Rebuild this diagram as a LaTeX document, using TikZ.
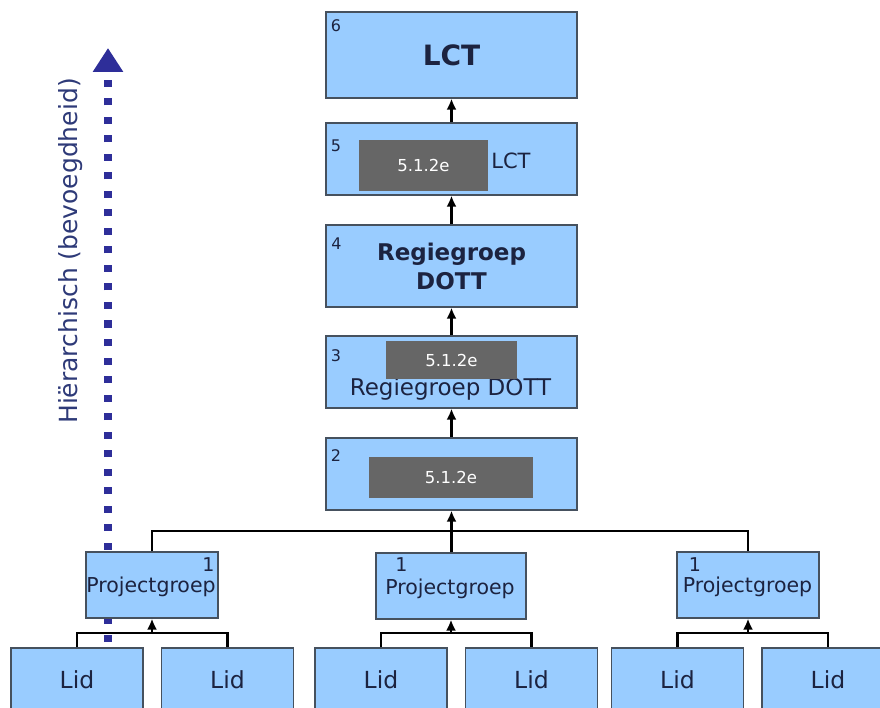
\documentclass[tikz,border=0pt]{standalone}
\usepackage{fontspec}
\setmainfont{DejaVu Sans}
\usetikzlibrary{arrows.meta}

\definecolor{boxblue}{HTML}{99CCFF}
\definecolor{boxline}{HTML}{46515E}
\definecolor{maskgray}{HTML}{666666}
\definecolor{hierblue}{HTML}{2E2E99}
\definecolor{hiertext}{HTML}{2E3A78}
\definecolor{textdark}{HTML}{1C2340}

\tikzset{every picture/.style={line width=0.75pt}}
\tikzset{
  lvlbox/.style={draw=boxline, fill=boxblue, line width=1.2pt, inner sep=0pt, minimum width=251pt, text=textdark},
  pgbox/.style={draw=boxline, fill=boxblue, line width=1.2pt, inner sep=0pt, minimum height=66pt},
  lidbox/.style={draw=boxline, fill=boxblue, line width=1.2pt, inner sep=0pt, minimum width=132pt, minimum height=64pt, text=textdark, font=\fontsize{23.5}{26}\selectfont},
  maskbox/.style={fill=maskgray, inner sep=0pt, text=white, font=\fontsize{16.5}{18}\selectfont},
  lvlnum/.style={inner sep=0pt, text=textdark, font=\fontsize{16}{18}\selectfont},
  pgnum/.style={inner sep=0pt, text=textdark, font=\fontsize{19}{20}\selectfont},
  pgtext/.style={inner sep=0pt, anchor=base, text=textdark, font=\fontsize{20.5}{24}\selectfont},
  conn/.style={line width=2.8pt, -{Latex[length=11pt,width=10pt]}},
  bus/.style={line width=2.8pt},
}

\begin{document}
\begin{tikzpicture}[x=1pt,y=1pt,yscale=-1,xscale=1]
	\useasboundingbox (0,0) rectangle (880,708);

	% Dotted arrow (hierarchy)
	\coordinate (hbot) at (108,642);
	\coordinate (htop) at (108,48);
	\draw [hierblue, line width=8pt, dash pattern=on 7pt off 11.5pt, -{Triangle[length=24pt,width=29pt]}] (hbot) -- (htop);
	% Text Node
	\node (hier) [rotate=90, anchor=base, inner sep=0pt, text=hiertext, font=\fontsize{25}{30}\selectfont] at (77,251) {Hiërarchisch (bevoegdheid)};

	% Level boxes
	\node (lvl6) [lvlbox, minimum height=86pt, font=\bfseries\fontsize{28}{34}\selectfont] at (451.5,55) {LCT};
	\node (lvl5) [lvlbox, minimum height=72pt] at (451.5,159) {};
	\node (lvl4) [lvlbox, minimum height=82pt, align=center, font=\bfseries\fontsize{23}{29}\selectfont] at (451.5,266) {Regiegroep\\DOTT};
	\node (lvl3) [lvlbox, minimum height=72pt] at (451.5,372) {};
	\node (lvl2) [lvlbox, minimum height=72pt] at (451.5,474) {};

	% Text Node
	\node (lct5) [inner sep=0pt, anchor=west, text=textdark, font=\fontsize{21}{24}\selectfont] at (491,161) {LCT};
	% Text Node
	\node (regie3) [inner sep=0pt, text=textdark, font=\fontsize{23}{26}\selectfont] at (450.5,389) {Regiegroep DOTT};

	% Masked parts
	\node (mask5) [maskbox, minimum width=129pt, minimum height=51pt] at (423.5,165.5) {5.1.2e};
	\node (mask3) [maskbox, minimum width=131pt, minimum height=38pt] at (451.5,360) {5.1.2e};
	\node (mask2) [maskbox, minimum width=164pt, minimum height=41pt] at (451,477.5) {5.1.2e};

	% Level numbers
	\node (n6) [lvlnum] at (336,26) {6};
	\node (n5) [lvlnum] at (336,146) {5};
	\node (n4) [lvlnum] at (336.5,244) {4};
	\node (n3) [lvlnum] at (336,356) {3};
	\node (n2) [lvlnum] at (336,456) {2};

	% Connectors between levels
	\draw [conn] (lvl5) -- (lvl6);
	\draw [conn] (lvl4) -- (lvl5);
	\draw [conn] (lvl3) -- (lvl4);
	\draw [conn] (lvl2) -- (lvl3);

	% Projectgroepen
	\node (pg1) [pgbox, minimum width=132pt] at (152,585) {};
	\node (pg2) [pgbox, minimum width=150pt] at (451,586) {};
	\node (pg3) [pgbox, minimum width=142pt] at (748,585) {};
	\node (pg1num) [pgnum] at (208.5,564.5) {1};
	\node (pg2num) [pgnum] at (401.5,565) {1};
	\node (pg3num) [pgnum] at (695,564.5) {1};
	\node (pg1txt) [pgtext] at (151,592) {Projectgroep};
	\node (pg2txt) [pgtext] at (450,594) {Projectgroep};
	\node (pg3txt) [pgtext] at (747.5,592) {Projectgroep};

	% Bus to level 2
	\coordinate (topbus) at (451.5,531);
	\draw [bus] (pg1.north) |- (topbus) -| (pg3.north);
	\draw [conn] (pg2.north -| topbus) -- (lvl2.south);

	% Leden
	\node (lid1) [lidbox] at (77,680) {Lid};
	\node (lid2) [lidbox] at (227.5,680) {Lid};
	\node (lid3) [lidbox] at (381,680) {Lid};
	\node (lid4) [lidbox] at (531.5,680) {Lid};
	\node (lid5) [lidbox] at (677.5,680) {Lid};
	\node (lid6) [lidbox] at (828,680) {Lid};

	% Bus to projectgroepen
	\coordinate (bus1) at (152,633);
	\coordinate (bus2) at (451,633);
	\coordinate (bus3) at (748,633);
	\draw [bus] (lid1.north) |- (bus1) -| (lid2.north);
	\draw [bus] (lid3.north) |- (bus2) -| (lid4.north);
	\draw [bus] (lid5.north) |- (bus3) -| (lid6.north);
	\draw [conn] (bus1) -- (pg1.south);
	\draw [conn] (bus2) -- (pg2.south);
	\draw [conn] (bus3) -- (pg3.south);

\end{tikzpicture}
\end{document}
